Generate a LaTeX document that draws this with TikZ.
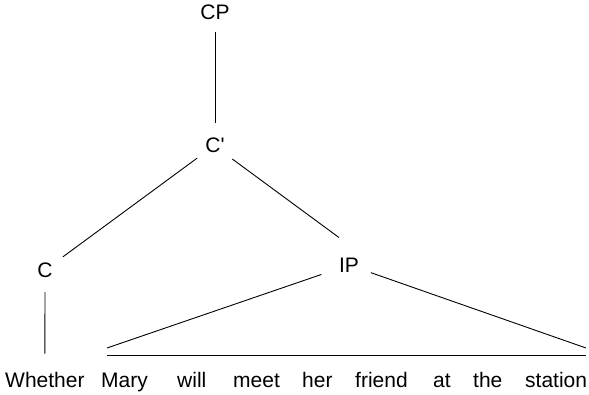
\documentclass[tikz,border=0pt]{standalone}
\usepackage{fontspec}
\setmainfont{Liberation Sans}
\usetikzlibrary{calc}

\tikzset{
  cat/.style={circle, inner sep=0pt, minimum size=44pt},
  word/.style={anchor=base west, inner sep=0pt},
  branch/.style={line width=0.9pt}
}

\begin{document}
\begin{tikzpicture}[x=1pt,y=1pt,font=\fontsize{21}{25}\selectfont]
					\useasboundingbox (0,0) rectangle (589,394);
					%\draw[help lines] (0,0) grid (589,394);

					%CATEGORIES
					\node[cat, minimum size=38pt] (CP) at (215,381.5) {CP};
					\node[cat] (Cbar) at (215,249) {C\textquotesingle};
					\node[cat] (C) at (45,124) {C};
					\node[cat, minimum size=58pt] (IP) at (349,129) {IP};
					%WORDS
					\node[word] (Whether) at (5,7) {Whether};
					\node[word] (Mary) at (101,7) {Mary};
					\node[word] (will) at (177,7) {will};
					\node[word] (meet) at (233,7) {meet};
					\node[word] (her) at (302,7) {her};
					\node[word] (friend) at (355,7) {friend};
					\node[word] (at) at (433,7) {at};
					\node[word] (the) at (473,7) {the};
					\node[word] (station) at (525,7) {station};
					%TRIANGLE
					\coordinate (tl) at (107,46);
					\coordinate (tr) at (586,46);
					\coordinate (bl) at (107,39);
					\coordinate (br) at (586,39);
					%BRANCHES
					\draw[branch] (CP) -- (Cbar);
					\draw[branch] (Cbar) -- (C);
					\draw[branch] (Cbar.-39) -- (IP.110);
					\draw[branch, shorten >=18pt] (C) -- (Whether.north);
					\draw[branch] (IP) -- (tl);
					\draw[branch, shorten <=-6pt] (IP) -- (tr);
					\draw[branch] (bl) -- (br);
\end{tikzpicture}
\end{document}
